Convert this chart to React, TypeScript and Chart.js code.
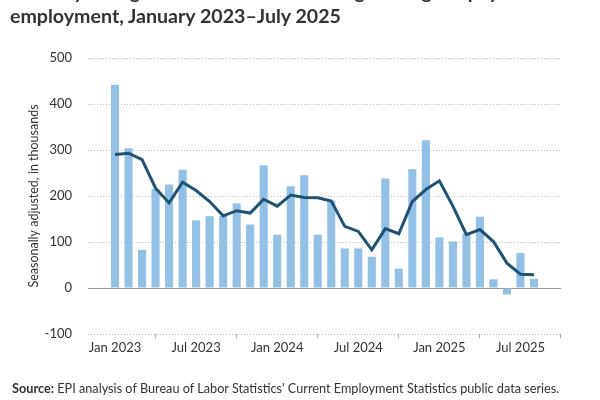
import React, { useEffect, useRef } from 'react';
import { Chart, registerables } from 'chart.js';
Chart.register(...registerables);

const months = [
  'Jan 2023', 'Feb 2023', 'Mar 2023', 'Apr 2023', 'May 2023', 'Jun 2023', 'Jul 2023', 'Aug 2023', 'Sep 2023', 'Oct 2023', 'Nov 2023', 'Dec 2023',
  'Jan 2024', 'Feb 2024', 'Mar 2024', 'Apr 2024', 'May 2024', 'Jun 2024', 'Jul 2024', 'Aug 2024', 'Sep 2024', 'Oct 2024', 'Nov 2024', 'Dec 2024',
  'Jan 2025', 'Feb 2025', 'Mar 2025', 'Apr 2025', 'May 2025', 'Jun 2025', 'Jul 2025', 'Aug 2025',
];

const monthlyChange = [
  442, 304, 83, 215, 225, 257, 147, 156, 157, 184, 138, 267,
  116, 221, 245, 116, 190, 86, 86, 68, 238, 42, 258, 321,
  110, 101, 119, 155, 19, -14, 76, 20,
];

const threeMonthAverage = [
  290, 293, 279, 217, 185, 230, 212, 188, 157, 168, 163, 193,
  178, 202, 197, 196, 189, 134, 123, 83, 129, 118, 188, 214,
  233, 178, 116, 127, 101, 54, 30, 29,
];

const tickMonths = ['Jan 2023', 'Jul 2023', 'Jan 2024', 'Jul 2024', 'Jan 2025', 'Jul 2025'];

const FONT = 'Lato, "Open Sans", sans-serif';

export default function App() {
  const ref = useRef<HTMLCanvasElement>(null);

  useEffect(() => {
    document.body.style.margin = '0';
    const zeroLine = {
      id: 'zeroLine',
      beforeDatasetsDraw(chart: any) {
        const { ctx, chartArea, scales } = chart;
        const y = Math.round(scales.y.getPixelForValue(0)) + 0.5;
        ctx.save();
        ctx.strokeStyle = '#9a9a9a';
        ctx.lineWidth = 1;
        ctx.beginPath();
        ctx.moveTo(chartArea.left, y);
        ctx.lineTo(chartArea.right, y);
        ctx.stroke();
        ctx.restore();
      },
    };
    const chart = new Chart(ref.current!, {
      type: 'bar',
      data: {
        datasets: [
          {
            type: 'line',
            data: threeMonthAverage.map((v, i) => ({ x: i, y: v })),
            borderColor: '#215273',
            borderWidth: 3,
            pointRadius: 0,
            tension: 0,
            fill: false,
            order: 0,
          } as any,
          {
            type: 'bar',
            data: monthlyChange.map((v, i) => ({ x: i, y: v })),
            backgroundColor: '#94c0e6',
            barPercentage: 0.6,
            categoryPercentage: 1,
            order: 1,
          } as any,
        ],
      },
      options: {
        animation: false,
        responsive: false,
        layout: { padding: { left: 22, top: 58, right: 39, bottom: 36 } },
        plugins: { legend: { display: false }, tooltip: { enabled: false } },
        scales: {
          x: {
            type: 'linear',
            min: -2,
            max: 33,
            offset: false,
            grid: { drawOnChartArea: false, drawTicks: true, tickLength: 4, color: '#aaaaaa' },
            border: { display: false },
            afterBuildTicks: (s: any) => {
              s.ticks = tickMonths.map((m) => ({ value: months.indexOf(m) }));
            },
            ticks: {
              autoSkip: false,
              maxRotation: 0,
              padding: 2,
              color: '#333333',
              font: { family: FONT, size: 13 },
              callback: (v: any) => months[v as number],
            },
            afterFit: (s: any) => {
              s.height = 30;
            },
          } as any,
          y: {
            min: -100,
            max: 500,
            ticks: {
              stepSize: 100,
              padding: 16,
              color: '#333333',
              font: { family: FONT, size: 13 },
            },
            grid: {
              drawTicks: false,
              color: (c: any) => (c.tick && c.tick.value === 0 ? 'rgba(0,0,0,0)' : '#bdbdbd'),
            },
            border: { display: false, dash: [1, 2] },
            title: {
              display: true,
              text: 'Seasonally adjusted, in thousands',
              color: '#333333',
              font: { family: FONT, size: 12.5 },
            },
            afterFit: (s: any) => {
              s.width = 66;
            },
          } as any,
        },
      },
      plugins: [zeroLine],
    });
    return () => chart.destroy();
  }, []);

  return (
    <div style={{ position: 'relative', width: 600, height: 400, overflow: 'hidden', background: '#fff' }}>
      <canvas ref={ref} width={600} height={400} style={{ position: 'absolute', left: 0, top: 0 }} />
      <div
        style={{
          position: 'absolute',
          left: 10,
          top: -20,
          width: 590,
          fontFamily: FONT,
          fontWeight: 700,
          fontSize: 19.6,
          lineHeight: '24px',
          color: '#333333',
          whiteSpace: 'nowrap',
        }}
      >
        <div>Monthly change and three-month average change in payroll</div>
        <div>employment, January 2023–July 2025</div>
      </div>
      <div
        style={{
          position: 'absolute',
          left: 12,
          top: 380,
          fontFamily: FONT,
          fontSize: 12.7,
          color: '#333333',
          whiteSpace: 'nowrap',
        }}
      >
        <b>Source:</b> EPI analysis of Bureau of Labor Statistics' Current Employment Statistics public data series.
      </div>
    </div>
  );
}
